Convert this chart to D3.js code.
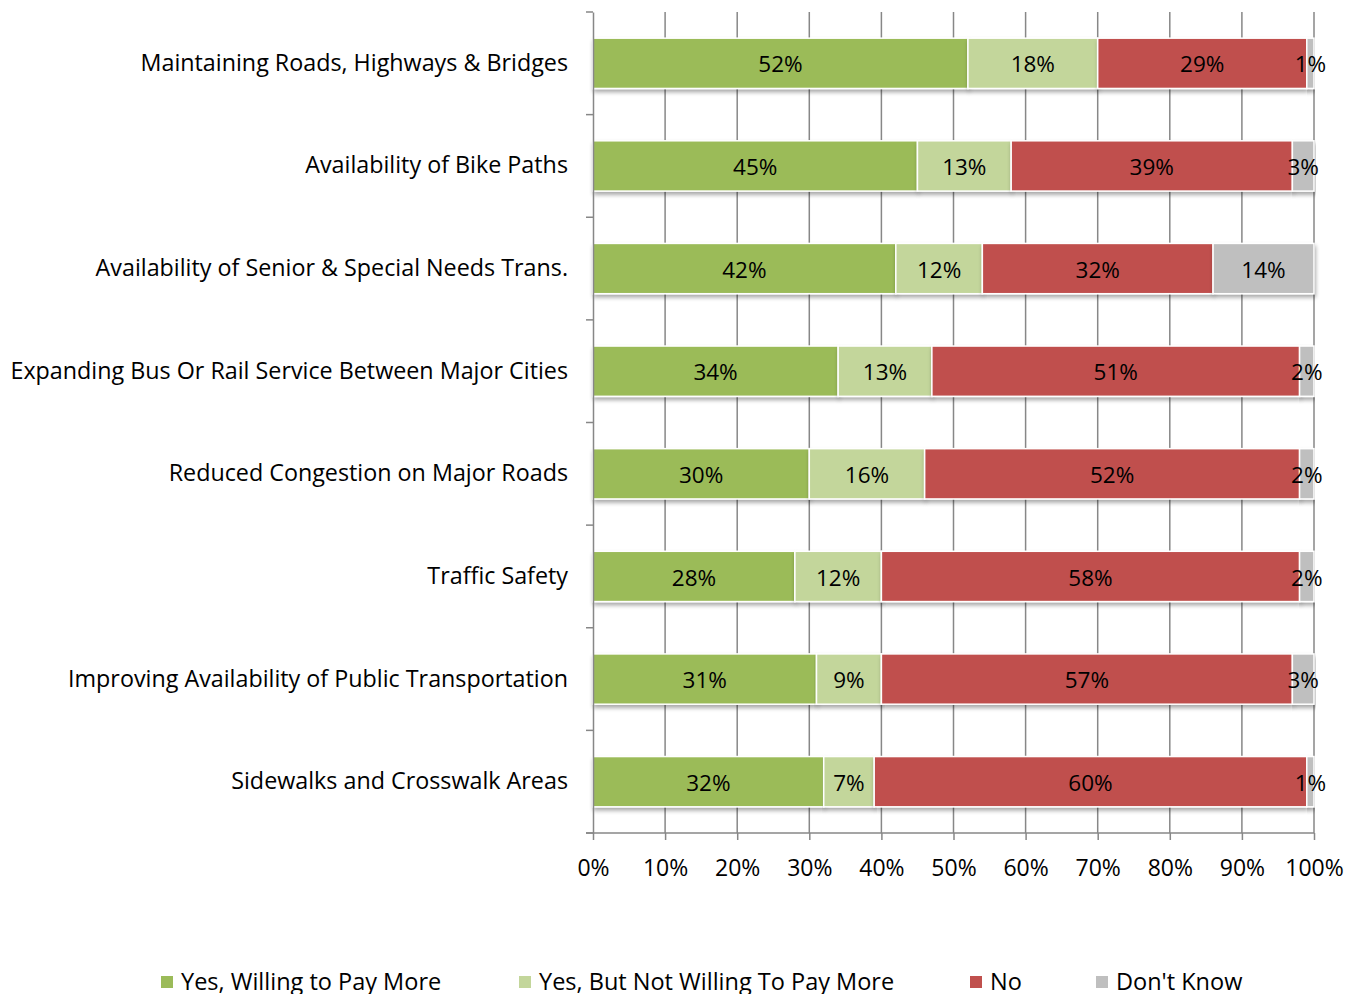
<!DOCTYPE html>
<html>
<head>
<meta charset="utf-8">
<script src="https://cdn.jsdelivr.net/npm/d3@7"></script>
<style>
  body { margin: 0; background: #fff; }
  svg text { font-family: "Open Sans", "Noto Sans", sans-serif; fill: #000; }
</style>
</head>
<body>
<div class="chart"></div>
<script>
// categories, top to bottom
var categories = [
  "Maintaining Roads, Highways & Bridges",
  "Availability of Bike Paths",
  "Availability of Senior & Special Needs Trans.",
  "Expanding Bus Or Rail Service Between Major Cities",
  "Reduced Congestion on Major Roads",
  "Traffic Safety",
  "Improving Availability of Public Transportation",
  "Sidewalks and Crosswalk Areas"
];
var seriesNames = ["Yes, Willing to Pay More", "Yes, But Not Willing To Pay More", "No", "Don't Know"];
var yesPay = [52, 45, 42, 34, 30, 28, 31, 32];
var yesNoPay = [18, 13, 12, 13, 16, 12, 9, 7];
var no = [29, 39, 32, 51, 52, 58, 57, 60];
var dontKnow = [1, 3, 14, 2, 2, 2, 3, 1];
var tickValues = [0, 10, 20, 30, 40, 50, 60, 70, 80, 90, 100];
var colors = ["#9BBB59", "#C3D69B", "#C0504D", "#BFBFBF"];

var svg_w = 1356, svg_h = 994;
var svg = d3.select("div.chart").append("svg")
  .attr("width", svg_w)
  .attr("height", svg_h);

var plotLeft = 593, plotRight = 1314, plotTop = 12, plotBottom = 833;

var x = d3.scaleLinear().domain([0, 100]).range([plotLeft, plotRight]);
var y = d3.scaleBand().domain(categories).range([plotTop, plotBottom]).paddingInner(0.51).paddingOuter(0.255);

// shadow filter
var defs = svg.append("defs");
var f = defs.append("filter").attr("id", "shadow").attr("x", "-5%").attr("y", "-20%").attr("width", "110%").attr("height", "160%");
f.append("feGaussianBlur").attr("in", "SourceAlpha").attr("stdDeviation", 2);
f.append("feOffset").attr("dx", 1).attr("dy", 3).attr("result", "blur");
f.append("feComponentTransfer").append("feFuncA").attr("type", "linear").attr("slope", 0.35);
var m = f.append("feMerge");
m.append("feMergeNode");
m.append("feMergeNode").attr("in", "SourceGraphic");

// gridlines
svg.append("g")
  .selectAll("line")
  .data(tickValues.slice(1))
  .enter()
  .append("line")
  .attr("x1", function(d) { return x(d); })
  .attr("x2", function(d) { return x(d); })
  .attr("y1", plotTop)
  .attr("y2", plotBottom)
  .attr("stroke", "#878787")
  .attr("stroke-width", 1.5);

// stack data
var table = categories.map(function(c, i) {
  return { cat: c, s0: yesPay[i], s1: yesNoPay[i], s2: no[i], s3: dontKnow[i] };
});
var stack = d3.stack().keys(["s0", "s1", "s2", "s3"])(table);

var layers = svg.append("g").selectAll("g")
  .data(stack)
  .enter()
  .append("g")
  .attr("fill", function(d, i) { return colors[i]; });

layers.selectAll("rect")
  .data(function(d) { return d; })
  .enter()
  .append("rect")
  .attr("x", function(d) { return x(d[0]); })
  .attr("y", function(d) { return y(d.data.cat); })
  .attr("width", function(d) { return x(d[1]) - x(d[0]); })
  .attr("height", y.bandwidth())
  .attr("stroke", "#fff")
  .attr("stroke-width", 1.5)
  .attr("filter", "url(#shadow)");

// value labels (drawn above all bars)
var labels = svg.append("g");
stack.forEach(function(layer) {
  labels.selectAll(null)
    .data(layer)
    .enter()
    .append("text")
    .attr("x", function(d) { return (x(d[0]) + x(d[1])) / 2; })
    .attr("y", function(d) { return y(d.data.cat) + y.bandwidth() / 2 + 1; })
    .attr("dy", "0.36em")
    .attr("text-anchor", "middle")
    .style("font-size", "22.5px")
    .text(function(d) { return (d[1] - d[0]) + "%"; });
});

// left axis
var yAxis = d3.axisLeft(y).tickSize(0).tickPadding(25);
var ya = svg.append("g").attr("transform", "translate(" + plotLeft + ",0)").call(yAxis);
ya.select(".domain").attr("stroke", "#878787").attr("stroke-width", 1.5);
ya.selectAll("text").style("font-size", "23.3px").attr("fill", "#000");
// band boundary ticks
var bounds = categories.map(function(c) { return y(c) - y.step() * y.paddingInner() / 2; }).concat([plotBottom]);
svg.append("g").selectAll("line")
  .data(bounds)
  .enter()
  .append("line")
  .attr("x1", plotLeft - 7).attr("x2", plotLeft)
  .attr("y1", function(d) { return d; }).attr("y2", function(d) { return d; })
  .attr("stroke", "#878787").attr("stroke-width", 1.5);

// bottom axis
var xAxis = d3.axisBottom(x).tickValues(tickValues).tickSize(7).tickPadding(20)
  .tickFormat(function(d) { return d + "%"; });
var xa = svg.append("g").attr("transform", "translate(0," + plotBottom + ")").call(xAxis);
xa.select(".domain").attr("stroke", "#878787").attr("stroke-width", 1.5).attr("d", "M" + (plotLeft - 7) + ",0H" + plotRight);
xa.selectAll(".tick line").attr("stroke", "#878787").attr("stroke-width", 1.5);
xa.selectAll("text").style("font-size", "23px").attr("fill", "#000");

// legend
var legendX = [161, 519, 970, 1096];
var lg = svg.append("g").selectAll("g")
  .data(seriesNames)
  .enter()
  .append("g")
  .attr("transform", function(d, i) { return "translate(" + legendX[i] + ",976)"; });
lg.append("rect").attr("width", 12).attr("height", 12)
  .attr("fill", function(d, i) { return colors[i]; });
lg.append("text").attr("x", 20).attr("y", 6).attr("dy", "0.36em")
  .style("font-size", "23.5px").text(function(d) { return d; });
</script>
</body>
</html>
